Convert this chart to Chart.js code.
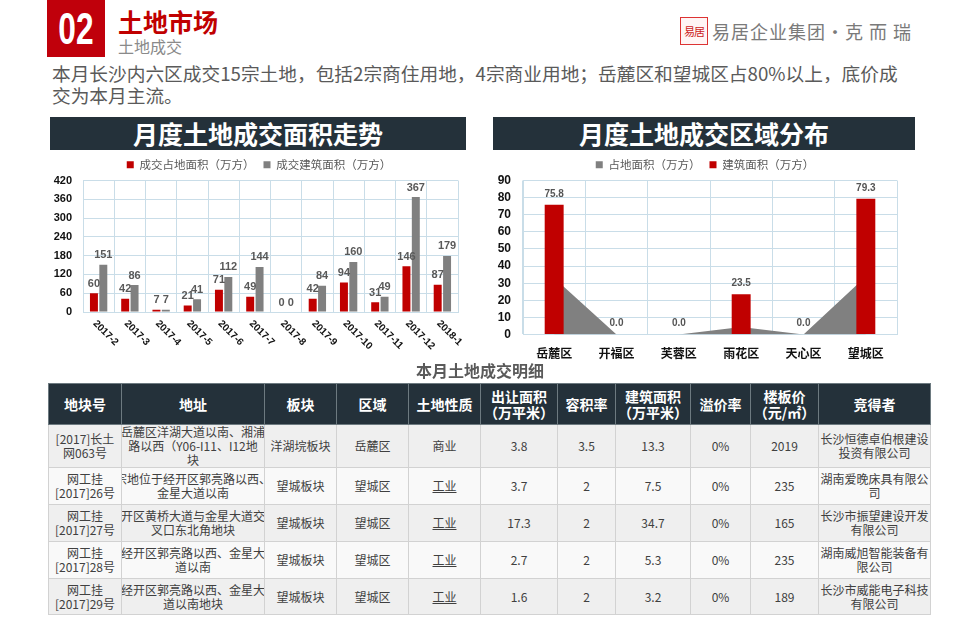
<!DOCTYPE html>
<html><head><meta charset="utf-8">
<script src="https://cdn.jsdelivr.net/npm/chart.js@4.4.1/dist/chart.umd.min.js"></script>
<style>
body{margin:0;background:#fff;width:960px;height:630px;overflow:hidden;position:relative;font-family:"Noto Sans CJK SC","Noto Sans",sans-serif;}
.abs{position:absolute;}
#numbox{left:47px;top:0;width:58px;height:57px;background:#c0000b;}
#numtxt{left:47px;top:0;width:58px;height:57px;color:#fff;font-family:"Liberation Sans",sans-serif;font-weight:bold;font-size:44px;line-height:57px;text-align:center;transform:scaleX(0.72);}
#h1{left:118px;top:5px;font-size:25px;font-weight:700;color:#c00000;line-height:32px;}
#h2{left:118px;top:36px;font-size:16px;color:#8a8a8a;line-height:20px;}
#seal{left:680px;top:17px;width:26px;height:26px;border:1px solid #d33;color:#c22;font-size:11px;line-height:26px;text-align:center;letter-spacing:-1px;background:#fff5f5;}
#logo{left:712px;top:19px;font-size:18px;color:#7a7a7a;line-height:24px;letter-spacing:1px;white-space:nowrap;}
#para{left:52px;top:62px;font-size:18.7px;color:#5a5a5a;line-height:22px;white-space:nowrap;}
.bar{background:#24313a;color:#fff;font-weight:700;font-size:25px;text-align:center;line-height:33px;height:33px;}
#t1{left:50px;top:117px;width:416px;}
#t2{left:493px;top:117px;width:422px;}
#c1{left:42px;top:150px;width:432px;height:202px;}
#c2{left:483px;top:150px;width:440px;height:225px;}
#tt{left:0;width:960px;top:359px;text-align:center;font-size:16px;font-weight:700;color:#5a5a5a;line-height:22px;}
#tbl{left:48px;top:383px;width:882px;border-collapse:collapse;table-layout:fixed;}
#tbl th{background:#24313a;color:#fff;font-size:14px;font-weight:700;line-height:16px;height:40px;padding:0;border:1px solid #6d7a80;text-align:center;}
#tbl td{font-size:12px;color:#404040;line-height:14px;padding:0;border:1px solid #d2d2d2;text-align:center;overflow:hidden;}
#tbl tr.o td{background:#efefef;}
#tbl tr.e td{background:#f9f9f9;}
.nw{white-space:nowrap;margin:0 -20px;}
.u{text-decoration:underline;}
</style></head><body>
<div id="numbox" class="abs"></div>
<div id="numtxt" class="abs">02</div>
<div id="h1" class="abs">土地市场</div>
<div id="h2" class="abs">土地成交</div>
<div id="seal" class="abs">易居</div>
<div id="logo" class="abs">易居企业集团·克 而 瑞</div>
<div id="para" class="abs">本月长沙内六区成交15宗土地，包括2宗商住用地，4宗商业用地；岳麓区和望城区占80%以上，底价成<br>交为本月主流。</div>
<div id="t1" class="abs bar">月度土地成交面积走势</div>
<div id="t2" class="abs bar">月度土地成交区域分布</div>
<div id="c1" class="abs"><canvas id="cv1"></canvas></div>
<div id="c2" class="abs"><canvas id="cv2"></canvas></div>
<div id="tt" class="abs">本月土地成交明细</div>
<table id="tbl" class="abs"><colgroup id="cols"></colgroup><thead><tr id="thr"></tr></thead><tbody id="tb"></tbody></table>
<script>
// ---- chart data ----
const months = ['2017-2','2017-3','2017-4','2017-5','2017-6','2017-7','2017-8','2017-9','2017-10','2017-11','2017-12','2018-1'];
const landArea = [60,42,7,21,71,49,0,42,94,31,146,87];
const buildArea = [151,86,7,41,112,144,0,84,160,49,367,179];
const monthYMax = 420, monthYStep = 60;
const districts = ['岳麓区','开福区','芙蓉区','雨花区','天心区','望城区'];
const districtLand = [33,0,0,4.5,0,34];
const districtBuild = [75.8,0,0,23.5,0,79.3];
const districtYMax = 90, districtYStep = 10;
// ---- table data ----
const tableHead = ['地块号','地址','板块','区域','土地性质','出让面积<br>（万平米）','容积率','建筑面积<br>（万平米）','溢价率','楼板价<br>（元/㎡）','竞得者'];
const colWidths = [73,143,72,72,72,77,58,75,60,68,112];
const plotNo = ['[2017]长土<br>网063号','网工挂<br>[2017]26号','网工挂<br>[2017]27号','网工挂<br>[2017]28号','网工挂<br>[2017]29号'];
const addr = [['岳麓区洋湖大道以南、湘浦','路以西（Y06-I11、I12地','块'],['宗地位于经开区郭亮路以西、','金星大道以南'],['开区黄桥大道与金星大道交','叉口东北角地块'],['经开区郭亮路以西、金星大','道以南'],['经开区郭亮路以西、金星大','道以南地块']];
const block = ['洋湖垸板块','望城板块','望城板块','望城板块','望城板块'];
const area = ['岳麓区','望城区','望城区','望城区','望城区'];
const nature = ['商业','工业','工业','工业','工业'];
const sellArea = ['3.8','3.7','17.3','2.7','1.6'];
const far = ['3.5','2','2','2','2'];
const gfa = ['13.3','7.5','34.7','5.3','3.2'];
const premium = ['0%','0%','0%','0%','0%'];
const floorPrice = ['2019','235','165','235','189'];
const winner = ['长沙恒德卓伯根建设投资有限公司','湖南爱晚床具有限公司','长沙市振望建设开发有限公司','湖南威旭智能装备有限公司','长沙市威能电子科技有限公司'];
const rowHeights = [43,37,37,37,36];

// build table
document.getElementById('cols').innerHTML = colWidths.map(w=>`<col style="width:${w}px">`).join('');
document.getElementById('thr').innerHTML = tableHead.map(h=>`<th>${h}</th>`).join('');
document.getElementById('tb').innerHTML = plotNo.map((p,i)=>`<tr class="${i%2?'e':'o'}" style="height:${rowHeights[i]}px">
<td>${p}</td><td>${addr[i].map(l=>`<div class="nw">${l}</div>`).join('')}</td><td>${block[i]}</td><td>${area[i]}</td>
<td><span class="${nature[i]==='工业'?'u':''}">${nature[i]}</span></td><td>${sellArea[i]}</td><td>${far[i]}</td><td>${gfa[i]}</td>
<td>${premium[i]}</td><td>${floorPrice[i]}</td><td>${winner[i]}</td></tr>`).join('');

// plugins
const valueLabels = {
  id:'valueLabels',
  afterDatasetsDraw(chart, args, opts){
    const ctx = chart.ctx;
    chart.data.datasets.forEach((ds,i)=>{
      if(!ds.showValues) return;
      const meta = chart.getDatasetMeta(i);
      ctx.save();
      ctx.font = opts.font; ctx.fillStyle = opts.color;
      ctx.textAlign = 'center'; ctx.textBaseline = 'bottom';
      meta.data.forEach((el,j)=>{
        const v = ds.data[j];
        ctx.fillText(opts.decimals!=null ? v.toFixed(opts.decimals) : String(v), el.x, el.y - opts.offset);
      });
      ctx.restore();
    });
  }
};
const slantLabels = {
  id:'slantLabels',
  afterDraw(chart, args, opts){
    const xs = chart.scales.x, ctx = chart.ctx;
    ctx.save();
    ctx.font = opts.font; ctx.fillStyle = opts.color;
    ctx.textAlign = 'left'; ctx.textBaseline = 'middle';
    chart.data.labels.forEach((lab,i)=>{
      const x = xs.getPixelForValue(i);
      ctx.save();
      ctx.translate(x - opts.shift, xs.top + opts.offset);
      ctx.rotate(Math.PI/4);
      ctx.fillText(lab, 0, 0);
      ctx.restore();
    });
    ctx.restore();
  }
};

const gridColor = '#c9dde8';
const narrow = "'Liberation Sans Narrow','Liberation Sans',sans-serif";
const cjk = "'Noto Sans CJK SC',sans-serif";
// empty right-hand spacer axis (keeps the legend centred on the panel)
const spacer = (w) => ({position:'right', display:true, ticks:{display:false}, grid:{display:false, drawTicks:false}, border:{display:false},
  afterFit(s){ s.width = w; }});

new Chart(document.getElementById('cv1'), {
  type:'bar',
  data:{labels:months, datasets:[
    {label:'成交占地面积（万方）', data:landArea, backgroundColor:'#c00000', showValues:true, categoryPercentage:0.6, barPercentage:0.85},
    {label:'成交建筑面积（万方）', data:buildArea, backgroundColor:'#808080', showValues:true, categoryPercentage:0.6, barPercentage:0.85}
  ]},
  options:{
    responsive:true, maintainAspectRatio:false, animation:false,
    layout:{padding:{left:2,right:0,bottom:40,top:0}},
    plugins:{
      legend:{position:'top', labels:{boxWidth:7, boxHeight:7, padding:9, color:'#595959', font:{family:cjk, size:11.5}}},
      tooltip:{enabled:false},
      valueLabels:{font:`bold 11px ${narrow}`, color:'#595959', offset:4},
      slantLabels:{font:`bold 10px ${narrow}`, color:'#111', shift:4, offset:10}
    },
    scales:{
      x:{ticks:{display:false}, grid:{color:gridColor, drawTicks:false, offset:true}, border:{color:gridColor}},
      y:{min:0, max:monthYMax, ticks:{stepSize:monthYStep, autoSkip:false, padding:11, color:'#111', font:{family:narrow, size:11, weight:'bold'}},
         grid:{color:gridColor, drawTicks:false}, border:{color:gridColor}, afterFit(s){ s.width = 39; }},
      yPad: spacer(16)
    }
  },
  plugins:[valueLabels, slantLabels]
});

new Chart(document.getElementById('cv2'), {
  data:{labels:districts, datasets:[
    {type:'line', label:'占地面积（万方）', data:districtLand, borderColor:'#808080', backgroundColor:'#808080', borderWidth:0, pointRadius:0, fill:'origin', tension:0, order:2},
    {type:'bar', label:'建筑面积（万方）', data:districtBuild, backgroundColor:'#c00000', showValues:true, categoryPercentage:0.8, barPercentage:0.38, order:1}
  ]},
  options:{
    responsive:true, maintainAspectRatio:false, animation:false,
    layout:{padding:{left:4,right:0,bottom:2,top:0}},
    plugins:{
      legend:{position:'top', labels:{sort:(a,b)=>a.datasetIndex-b.datasetIndex, boxWidth:7, boxHeight:7, padding:9, color:'#595959', font:{family:cjk, size:11.5}}},
      tooltip:{enabled:false},
      valueLabels:{font:`bold 10px ${narrow}`, color:'#555', offset:6, decimals:1}
    },
    scales:{
      x:{ticks:{padding:12, color:'#111', font:{family:cjk, size:12, weight:'bold'}}, grid:{color:gridColor, drawTicks:false, offset:true}, border:{color:gridColor}},
      y:{min:0, max:districtYMax, ticks:{stepSize:districtYStep, autoSkip:false, padding:12, color:'#111', font:{family:narrow, size:12, weight:'bold'}},
         grid:{color:gridColor, drawTicks:false}, border:{color:gridColor}, afterFit(s){ s.width = 36; }},
      yPad: spacer(26)
    }
  },
  plugins:[valueLabels]
});
</script>
</body></html>
